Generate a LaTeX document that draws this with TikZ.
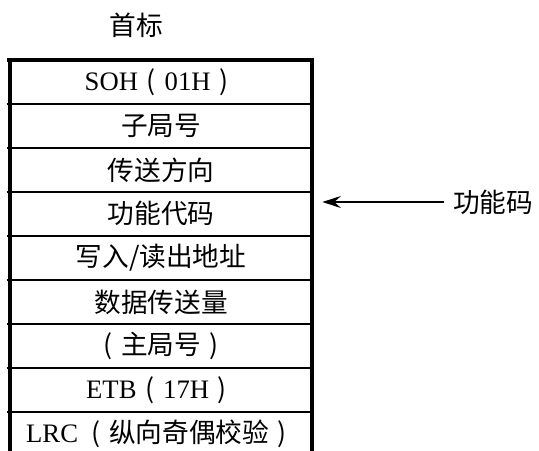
\documentclass[tikz,border=0pt]{standalone}
\usepackage{fontspec}
\setmainfont{Liberation Serif}
\newfontfamily\cjk{Noto Sans CJK SC}
\usetikzlibrary{arrows.meta, positioning}
% brackets set in the middle of a full-width cell
\newcommand\lpa{\makebox[1em]{\cjk (}}
\newcommand\rpa{\makebox[1em]{\cjk )}}
\tikzset{
  % one field of the frame
  fld/.style={rectangle, minimum width=226.5pt, minimum height=32.625pt,
              inner sep=0pt, font=\fontsize{20}{24}\selectfont},
  ttl/.style={inner sep=0pt, font=\fontsize{20}{24}\selectfont\cjk},
  lbl/.style={inner sep=0pt, font=\fontsize{20}{24}\selectfont\cjk},
  edge/.style={line width=3.2pt},
  rule/.style={line width=1.4pt},
  ar/.style={-{Stealth[length=14pt, width=9pt, inset=5pt]}, line width=1.4pt}
}
\begin{document}
\begin{tikzpicture}[x=0.75pt, y=-0.75pt]
  \useasboundingbox (0,0) rectangle (539,450);
  \node[ttl] (head) at (136,25) {首标};
  \node[fld] (r1) at (161,81.75) {SOH\lpa 01H\rpa};
  \node[fld, below=0pt of r1] (r2) {\cjk 子局号};
  \node[fld, below=0pt of r2] (r3) {\cjk 传送方向};
  \node[fld, below=0pt of r3] (r4) {\cjk 功能代码};
  \node[fld, below=0pt of r4] (r5) {\cjk 写入/读出地址};
  \node[fld, below=0pt of r5] (r6) {\cjk 数据传送量};
  \node[fld, below=0pt of r6] (r7) {\lpa{\cjk 主局号}\rpa};
  \node[fld, below=0pt of r7] (r8) {ETB\lpa 17H\rpa};
  \node[fld, below=0pt of r8] (r9) {LRC\,\lpa{\cjk 纵向奇偶校验}\rpa};
  % frame rules
  \draw[edge] ([xshift=-2.25pt]r1.north west) -- ([xshift=1.6pt]r1.north east);
  \foreach \k in {1,...,8}
    \draw[rule] ([xshift=-2.25pt]r\k.south west) -- (r\k.south east);
  \draw[edge] (r1.north west) -- (r9.south west);
  \draw[edge] (r1.north east) -- (r9.south east);
  % pointer to the function code
  \node[lbl] (fn) at (493,202) {功能码};
  \draw[ar, shorten <=6.75pt, shorten >=7.5pt] (fn.west) -- (fn.west -| r4.east);
\end{tikzpicture}
\end{document}
